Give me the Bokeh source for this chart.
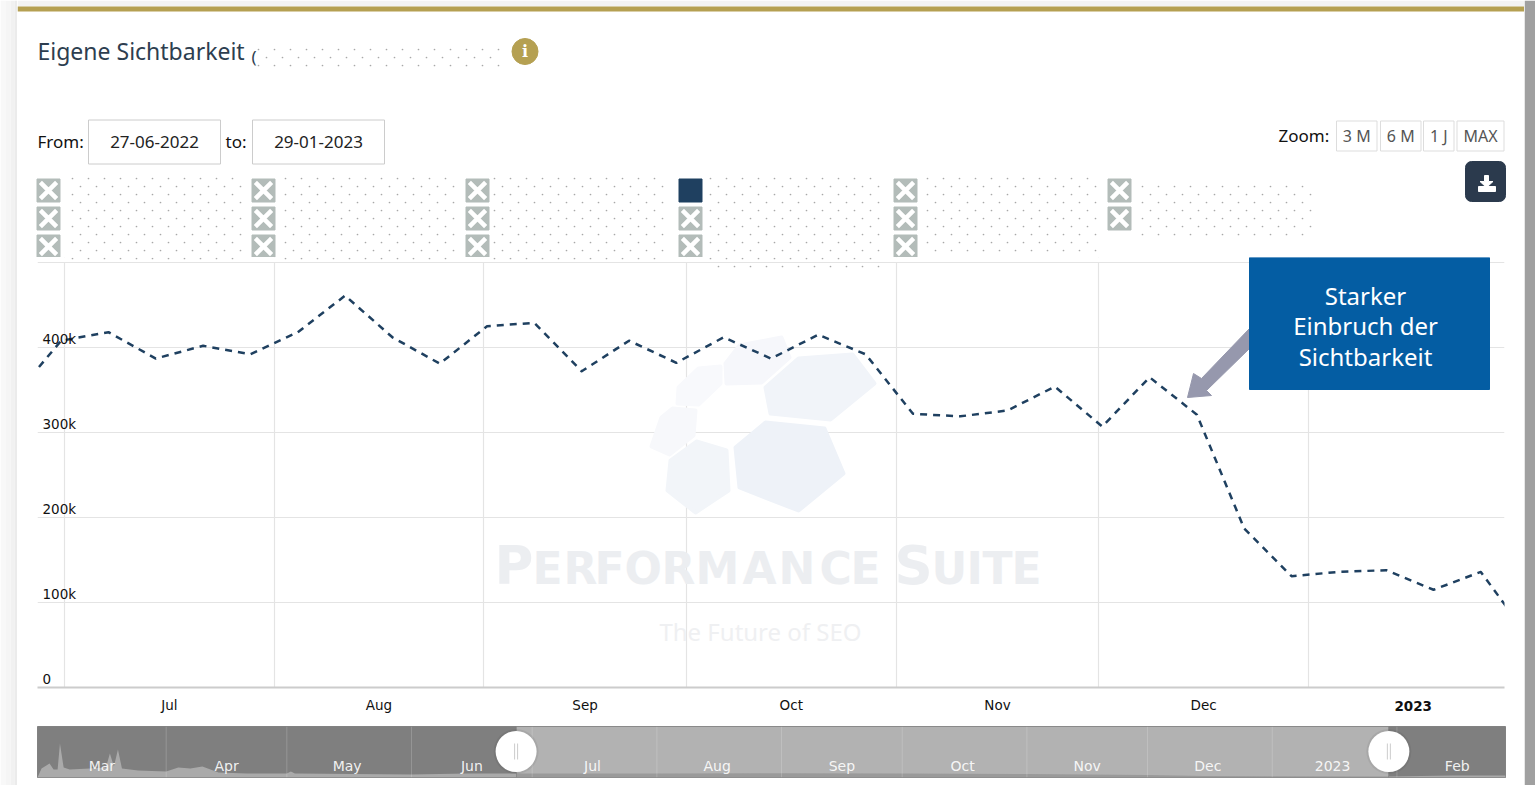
import numpy as np
import pandas as pd
from bokeh.plotting import figure
from bokeh.layouts import column, row
from bokeh.core.properties import value
from bokeh.embed import file_html
from bokeh.resources import INLINE
from bokeh.models import Range1d, FixedTicker, LinearAxis, Grid

# ---------- data ----------
week_dates = pd.date_range("2022-06-23 12:00", periods=33, freq="7D")
visibility_k = [342, 408, 418, 387, 402, 392, 418, 461, 412, 381, 425, 429, 372, 408, 382, 412,
                387, 415, 392, 322, 319, 326, 354, 307, 365, 321, 187, 131, 136, 138, 115, 136, 60]
y_ticks = [0, 100000, 200000, 300000, 400000]
y_labels = ["0", "100k", "200k", "300k", "400k"]
month_starts = ["2022-07-01", "2022-08-01", "2022-09-01", "2022-10-01", "2022-11-01", "2022-12-01", "2023-01-01", "2023-02-01"]
month_labels = ["Jul", "Aug", "Sep", "Oct", "Nov", "Dec"]
nav_dates = ["2022-02-28", "2022-03-01", "2022-03-03", "2022-03-04", "2022-03-05", "2022-03-05 14:00",
             "2022-03-06 12:00", "2022-03-08", "2022-03-13", "2022-03-17", "2022-03-18", "2022-03-19",
             "2022-03-20", "2022-03-21", "2022-03-25", "2022-04-01", "2022-04-04", "2022-04-07",
             "2022-04-10", "2022-04-14", "2022-04-21", "2022-05-01", "2022-05-02", "2022-05-03",
             "2022-06-01", "2022-06-15", "2022-06-27", "2022-07-01", "2022-08-01", "2022-09-01",
             "2022-10-01", "2022-11-01", "2022-12-01", "2022-12-15", "2023-01-01", "2023-01-30",
             "2023-02-15", "2023-02-28"]
nav_k = [0, 900, 1400, 800, 800, 3400, 1000, 800, 900, 1000, 2400, 1100, 2800, 900, 700, 600, 1000, 900,
         1100, 500, 400, 400, 600, 400, 300, 400, 400, 400, 400, 430, 400, 340, 250, 150, 130, 100, 200, 200]
nav_month_starts = ["2022-04-01", "2022-05-01", "2022-06-01", "2022-07-01", "2022-08-01", "2022-09-01",
                    "2022-10-01", "2022-11-01", "2022-12-01", "2023-01-01", "2023-02-01"]
nav_label_dates = ["2022-03-16", "2022-04-16", "2022-05-16", "2022-06-16", "2022-07-16", "2022-08-16",
                   "2022-09-16", "2022-10-16", "2022-11-16", "2022-12-16", "2023-01-16", "2023-02-16"]
nav_labels = ["Mar", "Apr", "May", "Jun", "Jul", "Aug", "Sep", "Oct", "Nov", "Dec", "2023", "Feb"]
wm_letters = ["P", "E", "R", "F", "O", "R", "M", "A", "N", "C", "E", "S", "U", "I", "T", "E"]
wm_sizes = [53, 44, 44, 44, 44, 44, 44, 44, 44, 44, 44, 53, 44, 44, 44, 44]


def ms(d):
    return int(pd.Timestamp(d).value // 1_000_000)


SANS = "Noto Sans"
NAVY = "#1f4060"
GOLD = "#b5a052"
W = 1507  # page x 17..1524

# ---------- card edges ----------
left_strip = figure(width=17, height=785, x_range=Range1d(0, 17), y_range=Range1d(785, 0),
                    x_axis_location=None, y_axis_location=None, toolbar_location=None, output_backend="svg",
                    min_border=0, outline_line_color=None, frame_align=False)
left_strip.grid.visible = False
left_strip.quad(left=[0, 5, 10, 14], right=[5, 10, 14, 17], top=[0] * 4, bottom=[785] * 4,
                color=["#f8f8f8", "#f5f5f5", "#f1f1f1", "#ebebeb"], line_color=None)
right_strip = figure(width=11, height=785, x_range=Range1d(1524, 1535), y_range=Range1d(785, 0),
                     x_axis_location=None, y_axis_location=None, toolbar_location=None, output_backend="svg",
                     min_border=0, outline_line_color=None, frame_align=False)
right_strip.grid.visible = False
right_strip.quad(left=[1524], right=[1535], top=[0], bottom=[785], color="#a0a0a0", line_color=None)

# ---------- header (coordinates = page pixels) ----------
h = figure(width=W, height=257, x_range=Range1d(17, 1524), y_range=Range1d(257, 0),
           x_axis_location=None, y_axis_location=None, toolbar_location=None,
           output_backend="svg", min_border=0, outline_line_color=None, frame_align=False)
h.grid.visible = False
h.quad(left=[17], right=[1524], top=[0], bottom=[6], color="#f3f3f3", line_color=None)
h.quad(left=[17], right=[1524], top=[6], bottom=[11], color=GOLD, line_color=None)

h.text(x=[37], y=[50], text=["Eigene Sichtbarkeit"], text_font=value(SANS), text_font_size="23px",
       text_color="#2d3e50", text_baseline="middle")
h.text(x=[251], y=[56], text=["("], text_font=value(SANS), text_font_size="17px",
       text_color="#2d3e50", text_baseline="middle")
h.scatter(x=[524.5], y=[51], size=26, color=GOLD)
h.text(x=[524.5], y=[51], text=["i"], text_font=value("DejaVu Serif"), text_font_size="16px", text_font_style="bold",
       text_color="white", text_align="center", text_baseline="middle")


def dots(x0, x1, y0, y1):
    xs, ys = [], []
    for i, y in enumerate(np.arange(y0, y1, 8.0)):
        for x in np.arange(x0 + (8 if i % 2 else 0), x1, 16.0):
            xs.append(x)
            ys.append(y)
    return np.array(xs), np.array(ys)


dot_blocks = [(258, 505, 49, 66), (72, 245, 178, 262), (285, 460, 178, 262), (494, 665, 178, 262),
              (710, 885, 178, 268), (927, 1100, 178, 258), (1142, 1313, 186, 236)]
low_x, low_y = [], []
for b in dot_blocks:
    dx, dy = dots(*b)
    m = dy < 257
    h.scatter(x=dx[m], y=dy[m], size=1.7, color="#a8a8a8", line_color=None)
    low_x += list(dx[~m])
    low_y += list(dy[~m])

for lbl, x, y in [("From:", 37, 141), ("to:", 225, 141), ("Zoom:", 1278, 135)]:
    h.text(x=[x], y=[y], text=[lbl], text_font=value(SANS), text_font_size="17px", text_color="#111111",
           text_baseline="middle")
for l, r, txt in [(88, 220, "27-06-2022"), (252, 384, "29-01-2023")]:
    h.quad(left=[l], right=[r], top=[119.5], bottom=[163.5], fill_color="white", line_color="#cccccc")
    h.text(x=[(l + r) / 2], y=[141], text=[txt], text_font=value(SANS), text_font_size="17px", text_color="#222222",
           text_align="center", text_baseline="middle")
for l, r, txt in [(1336, 1376.5, "3 M"), (1380, 1420.5, "6 M"), (1423, 1453.5, "1 J"), (1456.5, 1503.5, "MAX")]:
    h.quad(left=[l], right=[r], top=[120.5], bottom=[150.5], fill_color="white", line_color="#dddddd")
    h.text(x=[(l + r) / 2], y=[135.5], text=[txt], text_font=value(SANS), text_font_size="16px", text_color="#555555",
           text_align="center", text_baseline="middle")
h.quad(left=[1465], right=[1505], top=[161], bottom=[201], color="#2b3a4d", border_radius=6)
h.patches(xs=[[1484, 1488, 1488, 1492.5, 1486, 1479.5, 1484], [1478, 1495, 1495, 1478]],
          ys=[[175, 175, 181, 181, 187, 181, 181], [186, 186, 191, 191]], color="white")

xic = [48, 263, 477, 690, 905, 1119]
yic = [190, 218, 246]
for i, x in enumerate(xic):
    for j, y in enumerate(yic):
        if i == 5 and j == 2:
            continue
        if i == 3 and j == 0:
            h.rect(x=[x], y=[y], width=23, height=23, color=NAVY)
            continue
        h.rect(x=[x], y=[y], width=23, height=23, color="#b3bcb9")
        h.scatter(x=[x], y=[y], marker="x", size=23, line_color="white", line_width=4.5)

# ---------- main chart ----------
x0, x1 = ms("2022-06-27"), ms("2023-01-30")
ytop = 500000 + 5 / 85 * 100000
p = figure(width=W, height=469, x_range=Range1d(x0, x1), y_range=Range1d(0, ytop),
           toolbar_location=None, output_backend="svg", x_axis_location=None, y_axis_location=None,
           min_border_left=20, min_border_right=20, min_border_top=0, min_border_bottom=39,
           outline_line_color=None, frame_align=False)
p.grid.visible = False


def X(px):
    return x0 + (px - 37) / (1504 - 37) * (x1 - x0)


def Y(py):
    return (687 - py) / 85 * 100000


grid_ms = [ms(d) for d in month_starts[:7]]
mid_ms = [(ms(a) + ms(b)) // 2 for a, b in zip(month_starts[:6], month_starts[1:7])]
mid_2023 = (ms(month_starts[6]) + ms(month_starts[7])) // 2

xax = LinearAxis(ticker=FixedTicker(ticks=mid_ms), major_label_overrides=dict(zip(mid_ms, month_labels)),
                 major_tick_line_color=None, minor_tick_line_color=None, major_tick_out=0, major_tick_in=0,
                 axis_line_color="#cccccc", axis_line_width=2,
                 major_label_text_font="DejaVu Sans", major_label_text_font_size="13.5px",
                 major_label_text_color="#111111", major_label_standoff=9)
p.add_layout(xax, "below")
xax_year = LinearAxis(ticker=FixedTicker(ticks=[mid_2023]), major_label_overrides={mid_2023: "2023"},
                      major_tick_line_color=None, minor_tick_line_color=None, major_tick_out=0, major_tick_in=0,
                      axis_line_color=None, major_label_text_font="DejaVu Sans", major_label_text_font_size="13.5px",
                      major_label_text_font_style="bold", major_label_text_color="#111111", major_label_standoff=-15)
p.add_layout(xax_year, "below")

p.add_layout(Grid(dimension=0, ticker=FixedTicker(ticks=grid_ms), grid_line_color="#e4e4e4", grid_line_width=1.2))
p.add_layout(Grid(dimension=1, ticker=FixedTicker(ticks=y_ticks + [500000]), grid_line_color="#e4e4e4", grid_line_width=1.2))

# white band above the top grid line (vertical grid lines stop there)
p.quad(left=[x0], right=[x1], bottom=[Y(261.4)], top=[ytop], color="white", line_color=None)
p.scatter(x=[X(v) for v in low_x], y=[Y(v) for v in low_y], size=1.7, color="#a8a8a8", line_color=None)

# watermark
wm = [([735, 765, 824, 843, 798, 739], [447, 422, 428, 473, 510, 487], "#eef2f8"),
      ([765, 798, 852, 874, 830, 770], [387, 358, 354, 383, 419, 413], "#f1f4f9"),
      ([670, 696, 726, 728, 695, 667], [460, 441, 450, 490, 512, 490], "#f2f5f9"),
      ([661, 672, 695, 693, 669, 651], [417, 408, 410, 435, 454, 446], "#f7f8fb"),
      ([678, 698, 720, 720, 698, 677], [387, 368, 366, 383, 404, 403], "#f8f9fc"),
      ([725, 739, 781, 789, 761, 726], [363, 345, 337, 357, 382, 383], "#f6f7fb")]
for xs, ys, c in wm:
    p.patch([X(v) for v in xs], [Y(v) for v in ys], color=c, line_join="round", line_width=4)
wm_left = [494, 532, 563, 594, 624, 661, 695, 742, 778, 819, 850, 894, 931, 966, 982, 1011]
for ch, px, fs in zip(wm_letters, wm_left, wm_sizes):
    p.text(x=[X(px)], y=[Y(565 if fs == 53 else 568)], text=[ch], text_font=value("DejaVu Sans"), text_font_style="bold",
           text_font_size=f"{fs}px", text_color="#eceef1", text_baseline="middle")
p.text(x=[X(760)], y=[Y(630.5)], text=["The Future of SEO"], text_font=value(SANS), text_font_size="24px",
       text_color="#eff0f2", text_align="center", text_baseline="middle")

p.line(x=[ms(d) for d in week_dates], y=[v * 1000 for v in visibility_k], line_color=NAVY, line_width=2.5,
       line_dash="7 6", line_join="round")

p.text(x=[x0] * len(y_ticks), y=y_ticks, text=y_labels, x_offset=5, y_offset=-8.5, text_font=value("DejaVu Sans"),
       text_font_size="13.5px", text_color="#111111", text_baseline="middle")

# callout
p.patch([X(v) for v in [1249, 1201, 1193, 1187, 1211, 1206, 1249]],
        [Y(v) for v in [328, 378, 373, 397, 395, 390, 348]], color="#9698ad")
p.quad(left=[X(1249)], right=[X(1489)], top=[Y(257)], bottom=[Y(389)], color="#045da3")
for txt, py in [("Starker", 295), ("Einbruch der", 325), ("Sichtbarkeit", 356)]:
    p.text(x=[X(1365)], y=[Y(py)], text=[txt], text_font=value(SANS), text_font_size="24px", text_color="white",
           text_align="center", text_baseline="middle")

# ---------- navigator ----------
n0, n1 = ms("2022-02-28"), ms("2023-02-28")
nav = figure(width=W, height=59, x_range=Range1d(n0, n1), y_range=Range1d(0, 5100000),
             toolbar_location=None, output_backend="svg", x_axis_location=None, y_axis_location=None,
             min_border_left=20, min_border_right=19, min_border_top=0, min_border_bottom=8,
             background_fill_color="#b2b2b2", outline_line_color="#8a8a8a", frame_align=False)
nav.grid.visible = False
nx = np.array([ms(d) for d in nav_dates], dtype=float)
ny = np.array(nav_k, dtype=float) * 1000
nav.varea(x=nx, y1=0, y2=ny, color="#9a9a9a")
nav.quad(left=[n0, x1], right=[x0, n1], bottom=[0, 0], top=[5100000, 5100000], color="#7f7f7f")
left_mask = nx <= x0
right_mask = nx >= x1
nav.varea(x=nx[left_mask], y1=0, y2=ny[left_mask], color="#aaaaaa")
nav.varea(x=nx[right_mask], y1=0, y2=ny[right_mask], color="#aaaaaa")
gx = [ms(d) for d in nav_month_starts]
nav.segment(x0=gx, x1=gx, y0=[0] * len(gx), y1=[5100000] * len(gx), line_color="white", line_alpha=0.18)
nav.text(x=[ms(d) for d in nav_label_dates], y=[1200000] * 12, text=nav_labels, text_font=value("DejaVu Sans"),
         text_font_size="14px", text_color="white", text_alpha=0.9, text_align="center", text_baseline="middle")
nav.scatter(x=[x0, x1], y=[2600000, 2600000], size=45, color="black", alpha=0.06, line_color=None)
nav.scatter(x=[x0, x1], y=[2600000, 2600000], size=41, color="white", line_color=None)
for hx in (x0, x1):
    dx = 1.5 * 86400000 / 4.022
    nav.segment(x0=[hx - dx, hx + dx], x1=[hx - dx, hx + dx], y0=[1800000] * 2, y1=[3400000] * 2, line_color="#cccccc")

layout = row(left_strip, column(h, p, nav, spacing=0), right_strip, spacing=0)
open("out.html", "w").write(file_html(layout, INLINE))
